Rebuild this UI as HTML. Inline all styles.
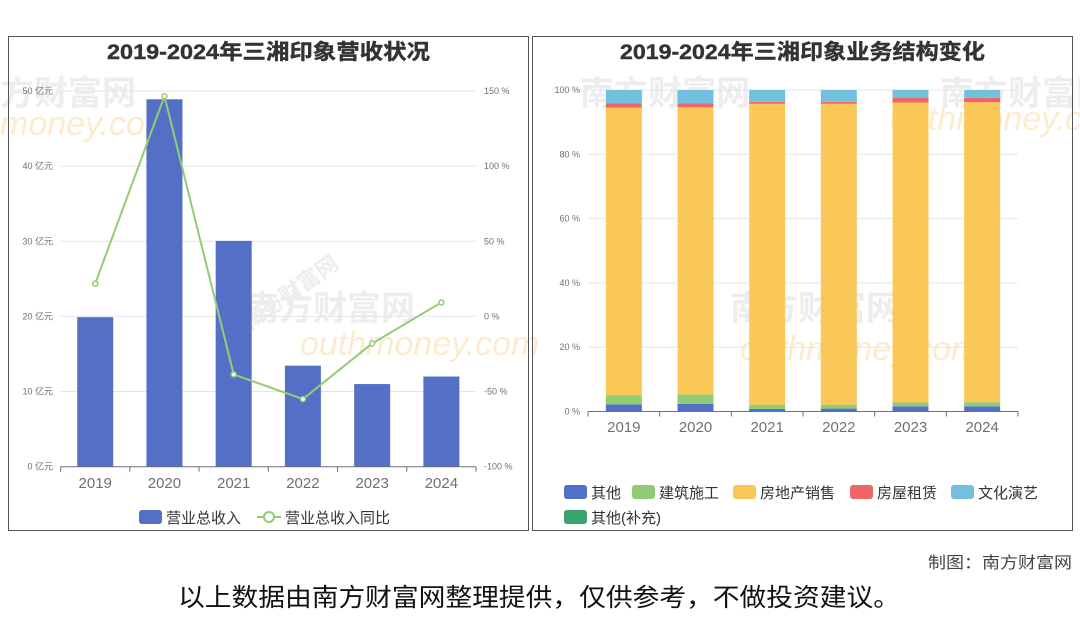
<!DOCTYPE html>
<html><head><meta charset="utf-8"><style>
body{margin:0;background:#fff;}
svg text{font-family:"Liberation Sans","Noto Sans CJK SC",sans-serif;}
</style></head><body>
<svg width="1080" height="614" viewBox="0 0 1080 614" xmlns="http://www.w3.org/2000/svg">
<g fill="#e6e6e6" font-size="34" font-weight="bold" opacity="0.7">
<text x="0" y="105">方财富网</text><text x="250" y="330" transform="rotate(-35 250 330)" font-size="22">南方财富网</text>
<text x="245" y="320">南方财富网</text><text x="730" y="320">南方财富网</text>
<text x="940" y="105">南方财富网</text><text x="580" y="105">南方财富网</text>
</g>
<g fill="#fde6c4" font-size="34" font-style="italic" opacity="0.8">
<text x="0" y="135">money.com</text><text x="300" y="355">outhmoney.com</text>
<text x="740" y="360">outhmoney.com</text><text x="890" y="130">outhmoney.com</text>
</g>
<rect x="8.5" y="36.5" width="520" height="494" fill="none" stroke="#555" stroke-width="1"/>
<rect x="532.5" y="36.5" width="540" height="494" fill="none" stroke="#555" stroke-width="1"/>
<text x="107" y="59" textLength="323" lengthAdjust="spacingAndGlyphs" font-size="21" font-weight="bold" fill="#333" stroke="#333" stroke-width="0.4">2019-2024年三湘印象营收状况</text>
<text x="620" y="59" textLength="365" lengthAdjust="spacingAndGlyphs" font-size="21" font-weight="bold" fill="#333" stroke="#333" stroke-width="0.4">2019-2024年三湘印象业务结构变化</text>
<g id="left"></g>
<g id="right"></g>
<g>
<rect x="139" y="510" width="23" height="14" rx="3" fill="#5470c6"/>
<text x="166" y="523" font-size="15" fill="#333">营业总收入</text>
<line x1="257" y1="517" x2="281" y2="517" stroke="#91cc75" stroke-width="2"/>
<circle cx="269" cy="517" r="5" fill="#fff" stroke="#91cc75" stroke-width="2"/>
<text x="285" y="523" font-size="15" fill="#333">营业总收入同比</text>
</g>
<g id="rlegend"></g>
<text x="928" y="568" textLength="144" lengthAdjust="spacingAndGlyphs" font-size="16" fill="#444">制图：南方财富网</text>
<text x="178" y="606" textLength="722" lengthAdjust="spacingAndGlyphs" font-size="25" fill="#111">以上数据由南方财富网整理提供，仅供参考，不做投资建议。</text>
</svg>
<script>
const years=['2019','2020','2021','2022','2023','2024'];
const revenue=[19.9,48.9,30.05,13.45,11.0,12.0];
const yoy=[21.8,146.5,-38.6,-55.0,-18.0,9.3];
const leftTicks=['0 亿元','10 亿元','20 亿元','30 亿元','40 亿元','50 亿元'];
const rightTicks=['-100 %','-50 %','0 %','50 %','100 %','150 %'];
const segNames=['其他','建筑施工','房地产销售','房屋租赁','文化演艺','其他(补充)'];
const segOther=[2.2,2.4,0.8,0.9,1.6,1.6];
const segBuild=[2.9,2.9,1.3,1.2,1.2,1.3];
const segEstate=[89.4,89.3,93.6,93.6,93.3,93.3];
const segRent=[1.3,1.3,0.6,0.6,1.4,1.4];
const segCulture=[4.2,4.1,3.7,3.7,2.5,2.4];
const segSupp=[0,0,0,0,0,0];
const pctTicks=['0 %','20 %','40 %','60 %','80 %','100 %'];
const colors=['#5470c6','#91cc75','#fac858','#ee6666','#73c0de','#3ba272'];
const NS='http://www.w3.org/2000/svg';
function mk(p,t,a,txt){const e=document.createElementNS(NS,t);for(const k in a)e.setAttribute(k,a[k]);if(txt!==undefined)e.textContent=txt;p.appendChild(e);return e;}
const L=document.getElementById('left');
const lx0=60.6,lx1=476,ly0=466.7,ly1=91;
const lcw=(lx1-lx0)/years.length;
const ly=v=>ly0-(v/50)*(ly0-ly1);
const ry=v=>ly0-((v+100)/250)*(ly0-ly1);
const lxc=i=>lx0+lcw*(i+0.5);
leftTicks.forEach((t,i)=>{const y=ly0-i*(ly0-ly1)/5;
 if(i>0){const g=mk(L,'line',{x1:lx0,x2:lx1,y1:y,y2:y,stroke:'#e0e6f1'});}
 const a=mk(L,'text',{x:53,y:y+3,'text-anchor':'end','font-size':9,fill:'#6e7079'},t);
 const b=mk(L,'text',{x:484,y:y+3,'font-size':9,fill:'#6e7079'},rightTicks[i]);});
revenue.forEach((v,i)=>{const r=mk(L,'rect',{x:lxc(i)-18,y:ly(v),width:36,height:ly0-ly(v),fill:'#5470c6'});
 });
const ax=mk(L,'line',{x1:lx0,x2:lx1,y1:ly0,y2:ly0,stroke:'#6e7079'});
years.forEach((y,i)=>{mk(L,'line',{x1:lx0+lcw*i,x2:lx0+lcw*i,y1:ly0,y2:ly0+5,stroke:'#6e7079'});
 const t=mk(L,'text',{x:lxc(i),y:488,'text-anchor':'middle','font-size':15,fill:'#6e7079'},y);});
mk(L,'line',{x1:lx1,x2:lx1,y1:ly0,y2:ly0+5,stroke:'#6e7079'});
const pl=mk(L,'polyline',{points:yoy.map((v,i)=>lxc(i)+','+ry(v)).join(' '),fill:'none',stroke:'#91cc75','stroke-width':2});

yoy.forEach((v,i)=>{const c=mk(L,'circle',{cx:lxc(i),cy:ry(v),r:2.5,fill:'#fff',stroke:'#91cc75','stroke-width':1.5});
 });
const R=document.getElementById('right');
const rx0=588,rx1=1018,ry0=411.5,ry1=90;
const rcw=(rx1-rx0)/years.length;
const py=v=>ry0-(v/100)*(ry0-ry1);
pctTicks.forEach((t,i)=>{const y=ry0-i*(ry0-ry1)/5;
 if(i>0){const g=mk(R,'line',{x1:rx0,x2:rx1,y1:y,y2:y,stroke:'#e0e6f1'});}
 const a=mk(R,'text',{x:580,y:y+3,'text-anchor':'end','font-size':9,fill:'#6e7079'},t);});
const series=[segOther,segBuild,segEstate,segRent,segCulture,segSupp];
years.forEach((yr,i)=>{let acc=0;const cx=rx0+rcw*(i+0.5);
 series.forEach((s,k)=>{const v=s[i];if(v<=0)return;const r=mk(R,'rect',{x:cx-18,y:py(acc+v),width:36,height:py(acc)-py(acc+v),fill:colors[k]});
  acc+=v;});
 mk(R,'line',{x1:rx0+rcw*i,x2:rx0+rcw*i,y1:ry0,y2:ry0+5,stroke:'#6e7079'});
 const t=mk(R,'text',{x:cx,y:432,'text-anchor':'middle','font-size':15,fill:'#6e7079'},yr);});
mk(R,'line',{x1:rx1,x2:rx1,y1:ry0,y2:ry0+5,stroke:'#6e7079'});
const ax2=mk(R,'line',{x1:rx0,x2:rx1,y1:ry0,y2:ry0,stroke:'#6e7079'});
const RL=document.getElementById('rlegend');
const lpos=[[564,492],[632,492],[733,492],[850,492],[951,492],[564,517]];
segNames.forEach((n,k)=>{const [x,y]=lpos[k];
 const s=mk(RL,'rect',{x:x,y:y-7,width:23,height:14,rx:3,fill:colors[k]});
 const t=mk(RL,'text',{x:x+27,y:y+6,'font-size':15,fill:'#333'},n);});
</script>
</body></html>
